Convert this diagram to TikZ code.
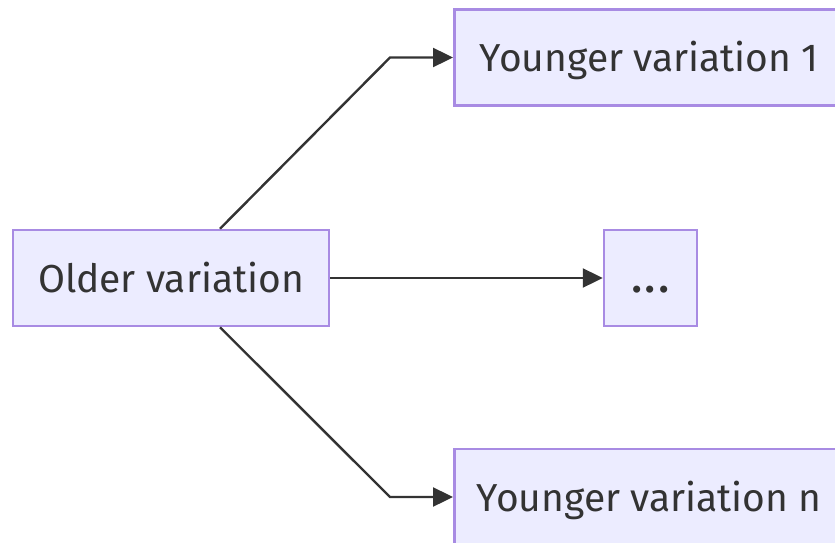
\documentclass[tikz,border=0pt]{standalone}
\usepackage{fontspec}
\setmainfont{Fira Sans}
\usetikzlibrary{arrows.meta, calc}

\definecolor{boxfill}{HTML}{ECECFF}
\definecolor{boxline}{HTML}{A88BE3}
\definecolor{linkcol}{HTML}{333333}

\begin{document}
\begin{tikzpicture}[
    x = 1pt, y = -1pt,
    variation/.style = {rectangle,
      draw = boxline,
      fill = boxfill,
      line width = 2.5pt,
      text = linkcol,
      font = \fontsize{39}{46}\selectfont,
      text height = 28pt,
      text depth = 0pt,
      minimum height = 96pt},
    link/.style = {draw = linkcol,
      line width = 2.4pt,
      -{Triangle[length = 20pt, width = 19pt]}}
    ]
    \useasboundingbox (0, 0) rectangle (835, 543);
    \clip (0, 0) rectangle (835, 543);

    \node at (171, 278) [variation, minimum width = 316pt, name = old] {Older variation};
    \node at (650.5, 278) [variation, minimum width = 93pt, name = dots] {\textbf{.\kern4pt.\kern4pt.}};
    \node at (453, 57.5) [variation, anchor = west, minimum width = 390pt, name = young1] {Younger variation 1};
    \node at (453, 497) [variation, anchor = west, minimum width = 390pt, name = youngn] {Younger variation n};

    \coordinate (bendup) at (390, 57.5);
    \coordinate (benddown) at (390, 497);

    \draw [link] ([xshift = 49pt]old.north) -- (bendup) -- (young1.west);
    \draw [link] (old.east) -- (dots.west);
    \draw [link] ([xshift = 49pt]old.south) -- (benddown) -- (youngn.west);

  \end{tikzpicture}
\end{document}
